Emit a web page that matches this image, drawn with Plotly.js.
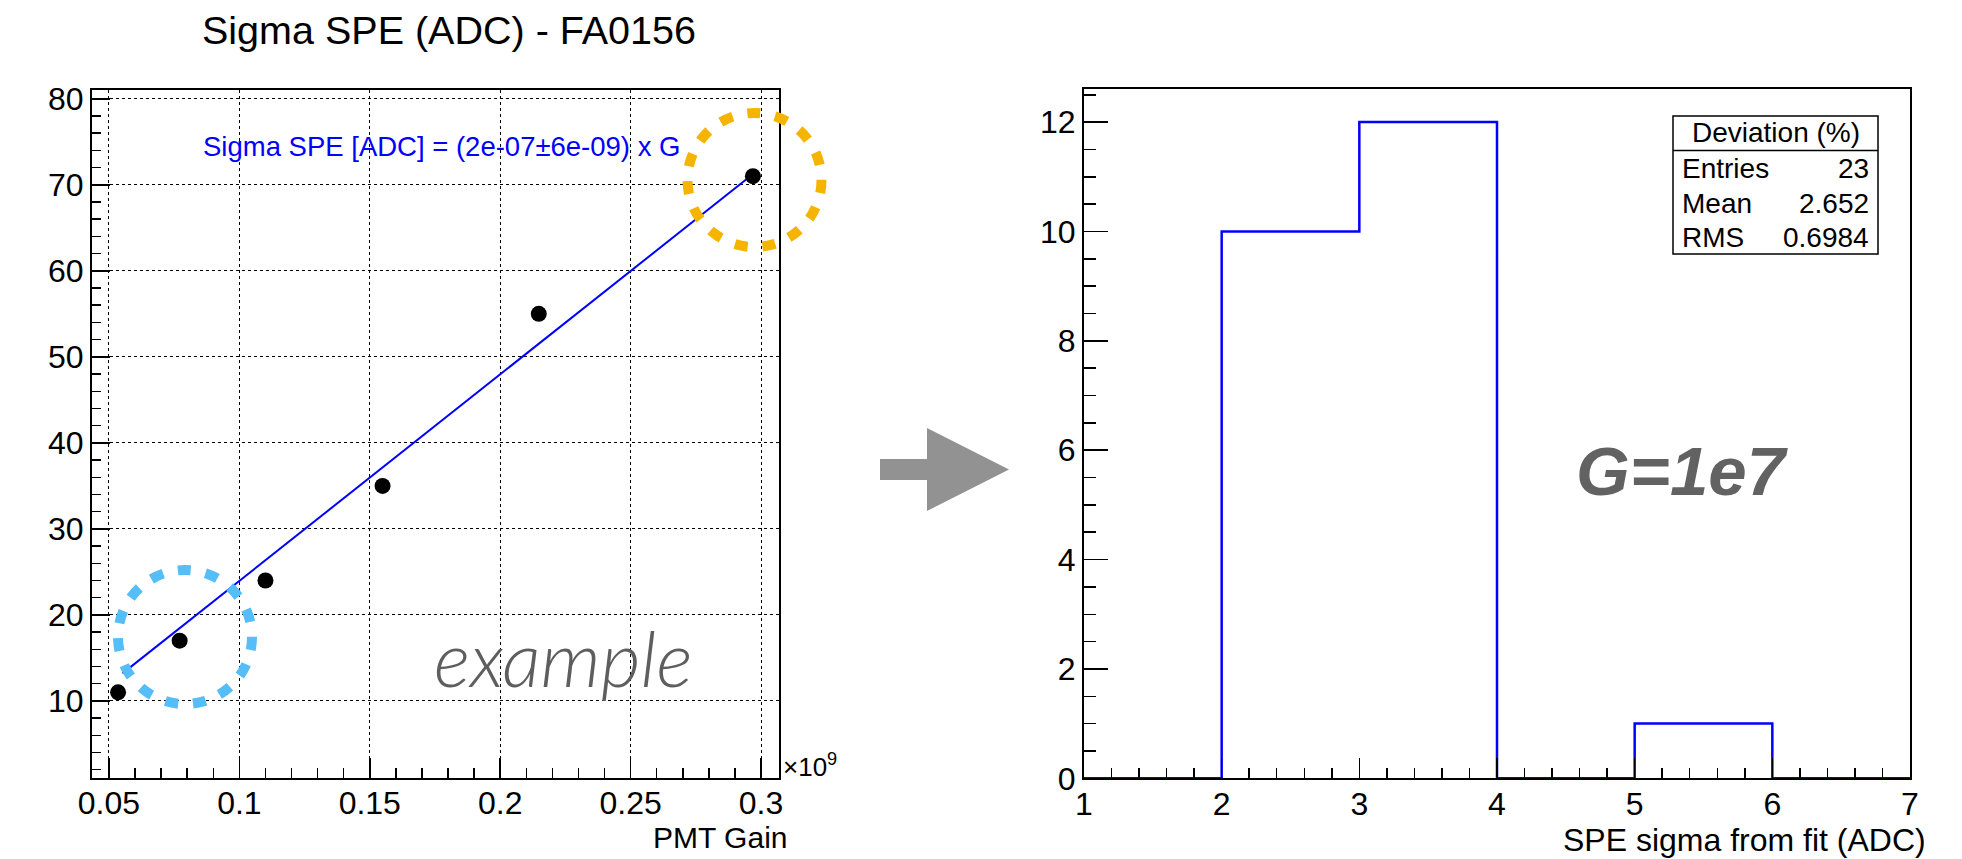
<!DOCTYPE html>
<html>
<head>
<meta charset="utf-8">
<script src="https://cdn.plot.ly/plotly-3.0.1.min.js"></script>
<style>
  html, body { margin: 0; padding: 0; background: #ffffff; }
  #chart { width: 1962px; height: 859px; }
</style>
</head>
<body>
<div id="chart"></div>
<script>
// ---------------- data ----------------
// Left panel: PMT gain (in units of 1e9) vs sigma SPE (ADC)
const pmtGain   = [0.0535, 0.0771, 0.110, 0.1549, 0.2148, 0.2969];
const sigmaSPE  = [11, 17, 24, 35, 55, 71];
// Fitted line end points (x in units of 1e9)
const fitGain   = [0.0552, 0.2955];
const fitSigma  = [13.2, 70.9];
const fitLabel  = "Sigma SPE [ADC] = (2e-07±6e-09) x G";

// Right panel: histogram of SPE sigma from fit
const binEdges  = [1, 2, 3, 4, 5, 6, 7];
const binCounts = [0, 10, 12, 0, 1, 0];
const statsTitle = "Deviation (%)";
const statsNames = ["Entries", "Mean", "RMS"];
const statsVals  = ["23", "2.652", "0.6984"];

// ---------------- helpers (layout only) ----------------
const W = 1962, H = 859;
const X = p => p / W;
const Y = p => 1 - p / H;
const FONT = "Liberation Sans, Arial, Helvetica, sans-serif";

const histX = binEdges.slice();
const histY = binCounts.concat([binCounts[binCounts.length - 1]]);

const traces = [
  {
    type: "scatter", mode: "lines",
    x: fitGain, y: fitSigma,
    line: { color: "#0000ff", width: 2 },
    xaxis: "x", yaxis: "y", hoverinfo: "skip"
  },
  {
    type: "scatter", mode: "markers",
    x: pmtGain, y: sigmaSPE,
    marker: { color: "#000000", size: 16 },
    xaxis: "x", yaxis: "y", cliponaxis: false
  },
  {
    type: "scatter", mode: "lines",
    x: histX, y: histY,
    line: { color: "#0000ff", width: 2.5, shape: "hv" },
    xaxis: "x2", yaxis: "y2"
  }
];

const tickFont = { family: FONT, size: 32, color: "#000000" };

function axisCommon(extra) {
  return Object.assign({
    showline: true, linecolor: "#000000", linewidth: 2, mirror: true,
    ticks: "inside", tickcolor: "#000000", tickwidth: 1.5,
    zeroline: false, tickfont: tickFont, automargin: false, fixedrange: true
  }, extra);
}

const dottedGrid = { showgrid: true, gridcolor: "#000000", griddash: "dot", gridwidth: 1 };

const layout = {
  width: W, height: H,
  margin: { l: 0, r: 0, t: 0, b: 0 },
  paper_bgcolor: "#ffffff",
  plot_bgcolor: "rgba(0,0,0,0)",
  showlegend: false,
  font: { family: FONT, color: "#000000" },
  xaxis: axisCommon(Object.assign({
    domain: [X(92), X(779)], anchor: "y",
    range: [0.0435, 0.3069], tick0: 0, dtick: 0.05, ticklen: 20, ticklabelstandoff: -4,
    minor: { ticks: "inside", ticklen: 10, dtick: 0.01, tickcolor: "#000000", tickwidth: 1.5, showgrid: false }
  }, dottedGrid)),
  yaxis: axisCommon(Object.assign({
    domain: [Y(778), Y(89.5)], anchor: "x",
    range: [1.04, 81.08], tick0: 0, dtick: 10, ticklen: 18,
    minor: { ticks: "inside", ticklen: 9, dtick: 2, tickcolor: "#000000", tickwidth: 1.5, showgrid: false }
  }, dottedGrid)),
  xaxis2: axisCommon({
    domain: [X(1084), X(1910)], anchor: "y2",
    range: [1, 7], tick0: 0, dtick: 1, ticklen: 20, showgrid: false, ticklabelstandoff: -4,
    minor: { ticks: "inside", ticklen: 10, dtick: 0.2, tickcolor: "#000000", tickwidth: 1.5, showgrid: false }
  }),
  yaxis2: axisCommon({
    domain: [Y(778.3), Y(89.3)], anchor: "x2",
    range: [0, 12.6], tick0: 0, dtick: 2, ticklen: 24, showgrid: false,
    minor: { ticks: "inside", ticklen: 12, dtick: 0.5, tickcolor: "#000000", tickwidth: 1.5, showgrid: false }
  }),
  annotations: [],
  shapes: []
};

function ann(text, xp, yp, size, opts) {
  layout.annotations.push(Object.assign({
    text: text, x: X(xp), y: Y(yp), xref: "paper", yref: "paper",
    showarrow: false, xanchor: "center", yanchor: "middle",
    font: { family: FONT, size: size, color: "#000000" }
  }, opts || {}));
}

// Titles and labels
ann("Sigma SPE (ADC) - FA0156", 449, 30, 39.5);
ann(fitLabel, 201, 146, 27.5, { xanchor: "left", font: { family: FONT, size: 27.5, color: "#0000ff" } });
ann("PMT Gain", 790, 837, 30, { xanchor: "right" });
ann("×10<sup>9</sup>", 781, 765, 26, { xanchor: "left" });
ann("SPE sigma from fit (ADC)", 1928, 840, 32, { xanchor: "right" });
ann("example", 432, 657, 77, { xanchor: "left",
  font: { family: "Lato, Open Sans, Liberation Sans, sans-serif", size: 77, color: "#5e5e5e", style: "italic", weight: 300 } });
ann("G=1e7", 1574, 471, 69, { xanchor: "left",
  font: { family: FONT, size: 69, color: "#626262", style: "italic", weight: 700 } });

// Stats box
layout.shapes.push({ type: "rect", xref: "paper", yref: "paper",
  x0: X(1673), x1: X(1878), y0: Y(254), y1: Y(116),
  line: { color: "#000000", width: 1.5 }, fillcolor: "#ffffff", layer: "above" });
layout.shapes.push({ type: "line", xref: "paper", yref: "paper",
  x0: X(1673), x1: X(1878), y0: Y(150.5), y1: Y(150.5),
  line: { color: "#000000", width: 1.5 }, layer: "above" });
ann(statsTitle, 1775.5, 133, 28);
const rowY = [168, 203, 237];
for (let i = 0; i < statsNames.length; i++) {
  ann(statsNames[i], 1680, rowY[i], 28, { xanchor: "left" });
  ann(statsVals[i], 1871, rowY[i], 28, { xanchor: "right" });
}

// Dashed highlight circles
function circle(cx, cy, r, color) {
  layout.shapes.push({ type: "circle", xref: "paper", yref: "paper",
    x0: X(cx - r), x1: X(cx + r), y0: Y(cy + r), y1: Y(cy - r),
    line: { color: color, width: 10, dash: "13px,15px" }, layer: "above" });
}
circle(185, 637, 67, "#55bdf7");
circle(754.5, 180, 67, "#f5b400");

// Arrow between panels
const arrowPts = [[880, 459], [927, 459], [927, 428], [1009, 469.5], [927, 511], [927, 480], [880, 480]];
layout.shapes.push({ type: "path", xref: "paper", yref: "paper",
  path: "M " + arrowPts.map(p => X(p[0]) + " " + Y(p[1])).join(" L ") + " Z",
  fillcolor: "#929292", line: { width: 0 }, layer: "above" });

Plotly.newPlot("chart", traces, layout, { staticPlot: true, displayModeBar: false });
</script>
</body>
</html>
